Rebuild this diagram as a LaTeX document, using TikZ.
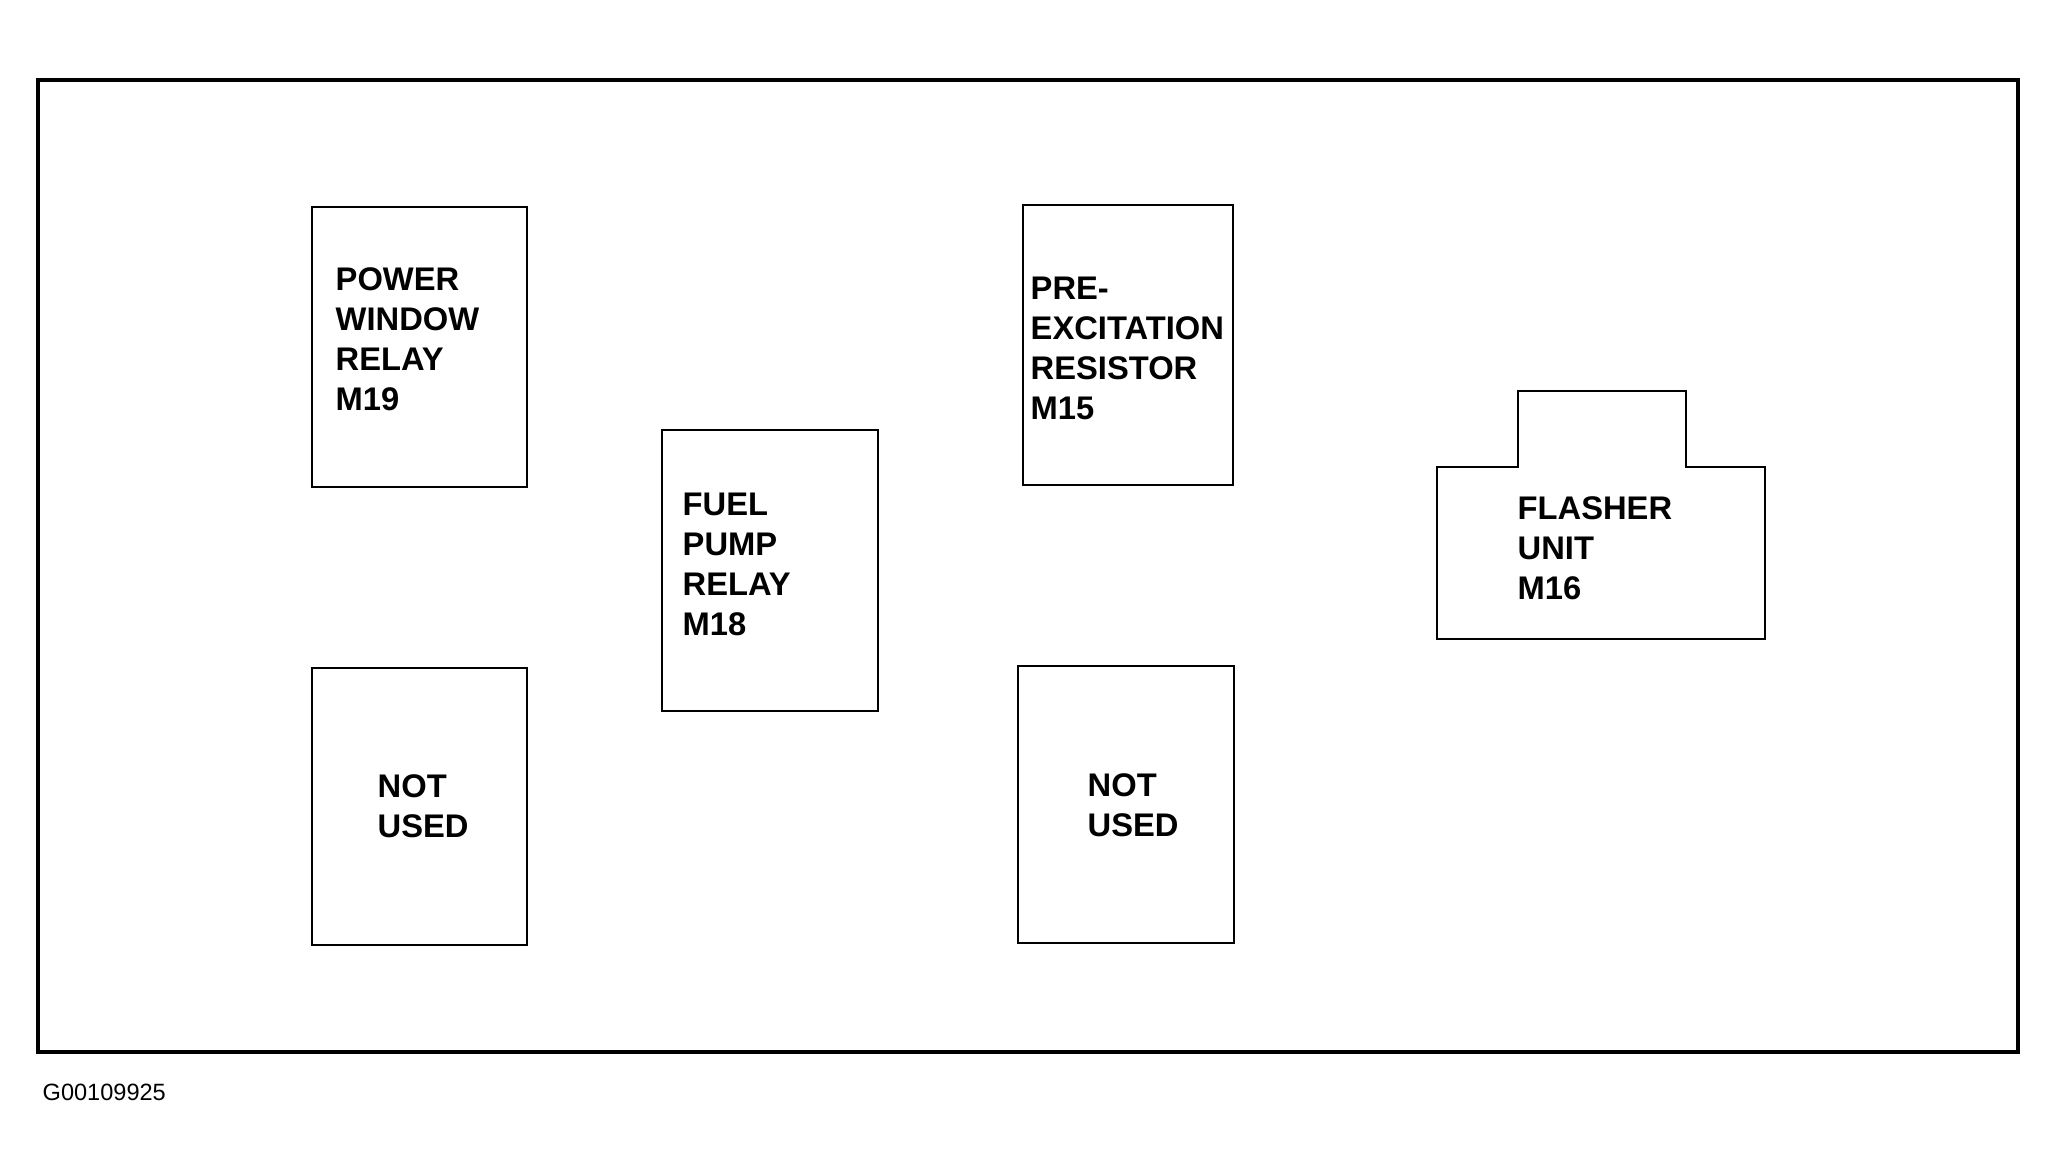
\documentclass[tikz,border=0pt]{standalone}
\usepackage{fontspec}
\setmainfont{Liberation Sans}
\usetikzlibrary{positioning}

\tikzset{
  relay/.style={draw, line width=0.75pt, rectangle, inner sep=0pt},
  lbl/.style={anchor=north west, inner sep=0pt, align=left,
              font=\fontsize{9.3}{11.4}\selectfont\bfseries}
}

\begin{document}
\begin{tikzpicture}[x=0.01cm, y=-0.01cm]
        \useasboundingbox (0,0) rectangle (2058,1175);

        % Panel outline
        \draw[line width=1pt] (38,80) rectangle (2018,1052);

        % Relays and resistor
        \node[relay, minimum width=2.15cm, minimum height=2.80cm] (pwr) at (419.5,347) {};
        \node[lbl] at (335,267) {POWER\\WINDOW\\RELAY\\M19};

        \node[relay, minimum width=2.16cm, minimum height=2.81cm] (fuel) at (770,570.5) {};
        \node[lbl] at (682,492) {FUEL\\PUMP\\RELAY\\M18};

        \node[relay, minimum width=2.10cm, minimum height=2.80cm] (pre) at (1128,345) {};
        \node[lbl] at (1030,276) {PRE-\\EXCITATION\\RESISTOR\\M15};

        % Empty slots
        \node[relay, minimum width=2.15cm, minimum height=2.77cm] (unusedA) at (419.5,806.5) {};
        \node[lbl] at (377,774) {NOT\\USED};

        \node[relay, minimum width=2.16cm, minimum height=2.77cm] (unusedB) at (1126,804.5) {};
        \node[lbl] at (1087,773) {NOT\\USED};

        % Flasher unit
        \draw[line width=0.75pt] (1437,467) -- (1518,467) -- (1518,391) -- (1686,391)
            -- (1686,467) -- (1765,467) -- (1765,639) -- (1437,639) -- cycle;
        \node[lbl] (flasher) at (1517,496) {FLASHER\\UNIT\\M16};

        % Figure number
        \node[anchor=base west, inner sep=0pt, font=\fontsize{6.7}{8}\selectfont] (fig) at (42,1100) {G00109925};
    \end{tikzpicture}
\end{document}
